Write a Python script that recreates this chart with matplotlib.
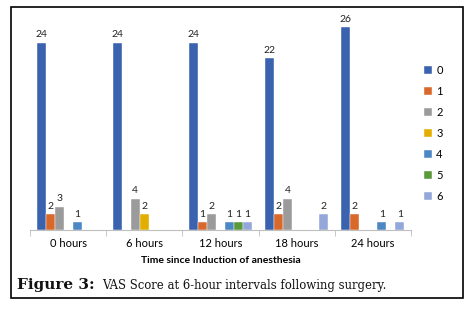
import numpy as np
import matplotlib.pyplot as plt
from matplotlib.patches import Rectangle

categories = ['0 hours', '6 hours', '12 hours', '18 hours', '24 hours']
scores = ['0', '1', '2', '3', '4', '5', '6']
# counts per VAS score (rows) for each time point (columns)
vas0 = [24, 24, 24, 22, 26]
vas1 = [2, 0, 1, 2, 2]
vas2 = [3, 4, 2, 4, 0]
vas3 = [0, 2, 0, 0, 0]
vas4 = [1, 0, 1, 0, 1]
vas5 = [0, 0, 1, 0, 0]
vas6 = [0, 0, 1, 2, 1]
series = [vas0, vas1, vas2, vas3, vas4, vas5, vas6]
colors = ['#3A62AE', '#D8692A', '#9B9B9B', '#E2AE00', '#4C88C4', '#5A9A3A', '#94A7DA']

plt.rcParams['font.family'] = ['Lato', 'DejaVu Sans']

fig = plt.figure(figsize=(4.73, 3.12), dpi=100)
ax = fig.add_axes([30/473, 82/312, 381/473, 218.4/312])

x = np.arange(len(categories))
w = 9/76
for k, (vals, c) in enumerate(zip(series, colors)):
    pos = x + (k - 3) * w
    bars = ax.bar(pos, vals, width=w, color=c, edgecolor='white', linewidth=0.3, label=scores[k])
    for xp, v in zip(pos, vals):
        if v > 0:
            ax.text(xp, v + 0.45, str(v), ha='center', va='bottom', fontsize=7.5, color='#222222')

ax.set_xlim(-0.5, 4.5)
ax.set_ylim(0, 28)
ax.set_yticks([])
for s in ['top', 'right', 'left']:
    ax.spines[s].set_visible(False)
ax.spines['bottom'].set_color('#BFBFBF')
ax.set_xticks(x)
ax.set_xticklabels(categories, fontsize=8)
ax.tick_params(axis='x', which='major', length=0, pad=6)
ax.set_xticks(np.arange(-0.5, 5, 1), minor=True)
ax.tick_params(axis='x', which='minor', length=4, color='#BFBFBF')
ax.set_xlabel('Time since Induction of anesthesia', fontsize=7.5, fontweight='bold', labelpad=5)

fig.legend(loc='upper left', bbox_to_anchor=(414/473, 1 - 55/312), frameon=False,
           fontsize=8, handlelength=0.7, handleheight=0.7, handletextpad=0.4,
           labelspacing=0.9)

fig.text(17/473, 1 - 285/312, 'Figure 3:', fontsize=11, fontweight='bold',
         family='DejaVu Serif', va='center', color='#111111')
fig.text(102/473, 1 - 285/312, 'VAS Score at 6-hour intervals following surgery.', fontsize=8.4,
         family='DejaVu Serif', va='center', color='#111111')

fig.patches.append(Rectangle((11/473, 1 - 298/312), 452/473, 291/312, transform=fig.transFigure,
                             fill=False, edgecolor='black', linewidth=1.2))

fig.savefig('out.png', dpi=100)
